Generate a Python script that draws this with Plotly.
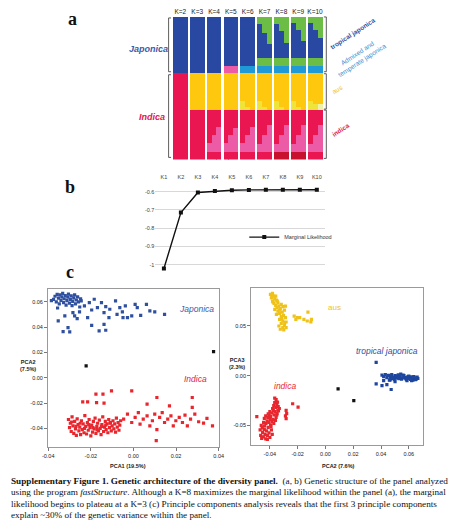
import plotly.graph_objects as go

W, H = 469, 522

# ---- panel a: fastStructure ancestry (percent of samples, top to bottom),
# each K column split in three strips (left, middle, right) to follow the sorted admixture
k_labels = ["K=2", "K=3", "K=4", "K=5", "K=6", "K=7", "K=8", "K=9", "K=10"]

k2_strip = [("jap", 39.5), ("ind", 60.5)]
k3_strip = [("jap", 39.5), ("aus", 25.6), ("ind", 34.9)]
struct_k2 = [k2_strip, k2_strip, k2_strip]
struct_k3 = [k3_strip, k3_strip, k3_strip]
struct_k4 = [
    [("jap", 39.5), ("aus", 25.6), ("ind", 22.9), ("pink", 6.6), ("ind", 5.4)],
    [("jap", 39.5), ("aus", 25.6), ("ind", 17.9), ("pink", 11.6), ("ind", 5.4)],
    [("jap", 39.5), ("aus", 25.6), ("ind", 11.9), ("pink", 17.6), ("ind", 5.4)],
]
struct_k5 = [
    [("jap", 34.4), ("pink", 5.1), ("aus", 25.6), ("ind", 22.9), ("pink", 6.6), ("ind", 5.4)],
    [("jap", 34.4), ("pink", 5.1), ("aus", 25.6), ("ind", 17.9), ("pink", 11.6), ("ind", 5.4)],
    [("jap", 34.4), ("pink", 5.1), ("aus", 25.6), ("ind", 12.9), ("pink", 16.6), ("ind", 5.4)],
]
struct_k6 = [
    [("jap", 34.4), ("ltblue", 5.1), ("aus", 19.6), ("ltyellow", 6.0), ("ind", 22.9), ("pink", 6.6), ("ind", 5.4)],
    [("jap", 34.4), ("ltblue", 5.1), ("aus", 23.6), ("ltyellow", 2.0), ("ind", 17.9), ("pink", 11.6), ("ind", 5.4)],
    [("jap", 34.4), ("ltblue", 5.1), ("aus", 25.6), ("ind", 11.9), ("pink", 17.6), ("ind", 5.4)],
]
struct_k7 = [
    [("green", 5.0), ("jap", 23.8), ("green", 5.6), ("ltblue", 5.1), ("aus", 19.6), ("ltyellow", 6.0),
     ("ind", 23.9), ("pink", 5.6), ("ind", 5.4)],
    [("green", 11.0), ("jap", 17.8), ("green", 5.6), ("ltblue", 5.1), ("aus", 23.6), ("ltyellow", 2.0),
     ("ind", 17.9), ("pink", 11.6), ("ind", 5.4)],
    [("green", 19.0), ("jap", 9.8), ("green", 5.6), ("ltblue", 5.1), ("aus", 25.6),
     ("ind", 10.9), ("pink", 18.6), ("ind", 5.4)],
]
struct_k8 = [
    [("green", 5.0), ("jap", 23.8), ("green", 5.6), ("ltblue", 5.1), ("aus", 19.6), ("ltyellow", 6.0),
     ("ind", 23.9), ("pink", 5.6), ("dkred", 5.4)],
    [("green", 10.0), ("jap", 18.8), ("green", 5.6), ("ltblue", 5.1), ("aus", 23.6), ("ltyellow", 2.0),
     ("ind", 17.9), ("pink", 11.6), ("dkred", 5.4)],
    [("green", 18.0), ("jap", 10.8), ("green", 5.6), ("ltblue", 5.1), ("aus", 25.6),
     ("ind", 10.9), ("pink", 18.6), ("dkred", 5.4)],
]
struct_k9 = [
    [("green", 4.0), ("jap", 24.8), ("green", 5.6), ("ltblue", 5.1), ("aus", 19.6), ("ltyellow", 6.0),
     ("ind", 23.9), ("pink", 5.6), ("dkred", 5.4)],
    [("green", 9.0), ("jap", 19.8), ("green", 5.6), ("ltblue", 5.1), ("aus", 23.6), ("ltyellow", 2.0),
     ("ind", 17.9), ("pink", 11.6), ("dkred", 5.4)],
    [("green", 17.0), ("jap", 11.8), ("green", 5.6), ("ltblue", 5.1), ("aus", 25.6),
     ("ind", 10.9), ("pink", 18.6), ("dkred", 5.4)],
]
struct_k10 = [
    [("green", 4.0), ("jap", 24.8), ("green", 5.6), ("ltblue", 5.1), ("aus", 19.6), ("ltyellow", 6.0),
     ("ind", 23.9), ("pink", 5.6), ("ind", 5.4)],
    [("green", 9.0), ("jap", 19.8), ("green", 5.6), ("ltblue", 5.1), ("aus", 21.6), ("ltyellow", 4.0),
     ("ind", 17.9), ("pink", 11.6), ("ind", 5.4)],
    [("green", 15.0), ("jap", 13.8), ("green", 5.6), ("ltblue", 5.1), ("aus", 21.6), ("pale", 4.0),
     ("ind", 10.9), ("pink", 18.6), ("ind", 5.4)],
]
structures = [struct_k2, struct_k3, struct_k4, struct_k5, struct_k6,
              struct_k7, struct_k8, struct_k9, struct_k10]

cluster_colors = {
    "jap": "#2848a2", "aus": "#fdc80e", "ind": "#ea1651", "pink": "#ec5ca6",
    "green": "#6bbd46", "ltblue": "#1f9ad7", "dkred": "#c8112f", "ltyellow": "#eee43a",
    "pale": "#eef2a8",
}

# ---- panel b: marginal likelihood
k_values = ["K1", "K2", "K3", "K4", "K5", "K6", "K7", "K8", "K9", "K10"]
marginal_likelihood = [-1.02, -0.715, -0.605, -0.597, -0.593, -0.591, -0.590, -0.590, -0.590, -0.590]
ml_ticks = [-1.0, -0.9, -0.8, -0.7, -0.6, -0.5]
ml_ticktext = ["-1", "-0.9", "-0.8", "-0.7", "-0.6", "-0.5"]

# ---- panel c left: PCA1 vs PCA2
pc1_ticks = [-0.04, -0.02, 0.0, 0.02, 0.04]
pc1_ticktext = ["-0.04", "-0.02", "0.00", "0.02", "0.04"]
pc2_left_ticks = [-0.04, -0.02, 0.0, 0.02, 0.04, 0.06]
pc2_left_ticktext = ["-0.04", "-0.02", "0.00", "0.02", "0.04", "0.06"]

japonica_pc1 = [-0.0375, -0.0368, -0.0362, -0.0358, -0.0352, -0.0348, -0.0345, -0.0340, -0.0336, -0.0332,
                -0.0328, -0.0325, -0.0320, -0.0316, -0.0312, -0.0308, -0.0305, -0.0300, -0.0296, -0.0292,
                -0.0288, -0.0285, -0.0280, -0.0276, -0.0272, -0.0268, -0.0262, -0.0258, -0.0252, -0.0248,
                -0.0356, -0.0385, -0.0245, -0.0230, -0.0207, -0.0196, -0.0184, -0.0169, -0.0150, -0.0138,
                -0.0130, -0.0111, -0.0084, -0.0077, -0.0064, -0.0052, -0.0038, -0.0028, -0.0008, 0.0008,
                0.0018, 0.0034, 0.0061, 0.0077, 0.0100, 0.0146, -0.0276, -0.0264, -0.0215, -0.0196,
                -0.0138, -0.0161, -0.0130, -0.0307, -0.0330, -0.0299, -0.0353, -0.0284, -0.0253, -0.0322,
                -0.0115, -0.0049]
japonica_pc2 = [0.0620, 0.0645, 0.0600, 0.0660, 0.0630, 0.0585, 0.0655, 0.0612, 0.0640, 0.0668,
                0.0595, 0.0625, 0.0650, 0.0575, 0.0610, 0.0638, 0.0662, 0.0590, 0.0620, 0.0648,
                0.0570, 0.0605, 0.0632, 0.0655, 0.0585, 0.0615, 0.0640, 0.0600, 0.0560, 0.0625,
                0.0552, 0.0610, 0.0608, 0.0568, 0.0594, 0.0536, 0.0621, 0.0555, 0.0594, 0.0515,
                0.0563, 0.0542, 0.0608, 0.0502, 0.0555, 0.0521, 0.0568, 0.0476, 0.0489, 0.0581,
                0.0555, 0.0494, 0.0581, 0.0529, 0.0521, 0.0502, 0.0489, 0.0468, 0.0476, 0.0415,
                0.0423, 0.0371, 0.0376, 0.0397, 0.0365, 0.0363, 0.0450, 0.0515, 0.0521, 0.0489,
                0.0476, 0.0476]

indica_pc1 = [-0.0305, -0.0300, -0.0296, -0.0292, -0.0288, -0.0284, -0.0280, -0.0276, -0.0272, -0.0268,
              -0.0264, -0.0260, -0.0256, -0.0252, -0.0248, -0.0244, -0.0240, -0.0236, -0.0232, -0.0228,
              -0.0224, -0.0220, -0.0216, -0.0212, -0.0208, -0.0204, -0.0200, -0.0196, -0.0192, -0.0188,
              -0.0184, -0.0180, -0.0176, -0.0172, -0.0168, -0.0164, -0.0160, -0.0156, -0.0152, -0.0148,
              -0.0144, -0.0140, -0.0136, -0.0132, -0.0128, -0.0124, -0.0120, -0.0116, -0.0112, -0.0108,
              -0.0104, -0.0100, -0.0096, -0.0092, -0.0088, -0.0084, -0.0080, -0.0076, -0.0072, -0.0068,
              -0.0064, -0.0060, -0.0290, -0.0270, -0.0250, -0.0230, -0.0210, -0.0190, -0.0170, -0.0150,
              -0.0130, -0.0110,
              -0.0046, -0.0028, -0.0008, 0.0008, 0.0023, 0.0031, 0.0046, 0.0064, 0.0077, 0.0089,
              0.0100, 0.0110, 0.0123, 0.0135, 0.0146, 0.0161, 0.0176, 0.0187, 0.0199, 0.0215,
              0.0230, 0.0242, 0.0253, 0.0268, 0.0288, 0.0306, 0.0329, 0.0345, 0.0371, 0.0107,
              0.0169, 0.0276,
              -0.0176, -0.0143, -0.0103, -0.0008, -0.0238, -0.0215, -0.0173, -0.0138, 0.0064, 0.0110,
              0.0276]
indica_pc2 = [-0.0330, -0.0395, -0.0360, -0.0425, -0.0310, -0.0380, -0.0440, -0.0345, -0.0405, -0.0455,
              -0.0325, -0.0370, -0.0420, -0.0390, -0.0450, -0.0340, -0.0410, -0.0365, -0.0435, -0.0300,
              -0.0385, -0.0445, -0.0355, -0.0415, -0.0330, -0.0395, -0.0460, -0.0375, -0.0430, -0.0345,
              -0.0405, -0.0320, -0.0440, -0.0385, -0.0360, -0.0420, -0.0335, -0.0400, -0.0450, -0.0370,
              -0.0310, -0.0425, -0.0390, -0.0345, -0.0410, -0.0365, -0.0435, -0.0330, -0.0395, -0.0355,
              -0.0420, -0.0380, -0.0340, -0.0405, -0.0365, -0.0430, -0.0320, -0.0390, -0.0355, -0.0415,
              -0.0375, -0.0340, -0.0350, -0.0385, -0.0360, -0.0400, -0.0370, -0.0395, -0.0410, -0.0385,
              -0.0375, -0.0360,
              -0.0327, -0.0288, -0.0354, -0.0314, -0.0275, -0.0367, -0.0327, -0.0301, -0.0380, -0.0340,
              -0.0288, -0.0411, -0.0314, -0.0275, -0.0354, -0.0327, -0.0301, -0.0380, -0.0340, -0.0314,
              -0.0354, -0.0296, -0.0380, -0.0327, -0.0288, -0.0348, -0.0359, -0.0322, -0.0380, -0.0498,
              -0.0222, -0.0235,
              -0.0130, -0.0130, -0.0103, -0.0103, -0.0190, -0.0190, -0.0196, -0.0201, -0.0209, -0.0156,
              -0.0156]

admixed_left_pc1 = [-0.0222, 0.0376]
admixed_left_pc2 = [0.0094, 0.0207]

# ---- panel c right: PCA2 vs PCA3
pc2_right_ticks = [-0.04, -0.02, 0.0, 0.02, 0.04, 0.06]
pc2_right_ticktext = ["-0.04", "-0.02", "0.00", "0.02", "0.04", "0.06"]
pc3_ticks = [-0.05, 0.0, 0.05]
pc3_ticktext = ["-0.05", "0.00", "0.05"]

aus_pc2 = [-0.0396, -0.0381, -0.0372, -0.0389, -0.0365, -0.0381, -0.0353, -0.0370, -0.0342, -0.0358,
           -0.0335, -0.0349, -0.0325, -0.0365, -0.0318, -0.0307, -0.0342, -0.0311, -0.0330, -0.0295,
           -0.0302, -0.0318, -0.0288, -0.0330, -0.0307, -0.0283, -0.0318, -0.0295, -0.0335, -0.0307,
           -0.0283, -0.0325, -0.0300, -0.0386, -0.0358, -0.0346, -0.0377, -0.0330, -0.0314, -0.0293,
           -0.0288, -0.0353,
           -0.0225, -0.0201, -0.0213, -0.0185, -0.0155, -0.0126, -0.0131, -0.0101, -0.0105]
aus_pc3 = [0.0817, 0.0827, 0.0800, 0.0783, 0.0773, 0.0750, 0.0760, 0.0727, 0.0733, 0.0707,
           0.0700, 0.0684, 0.0674, 0.0667, 0.0717, 0.0694, 0.0650, 0.0640, 0.0627, 0.0660,
           0.0607, 0.0594, 0.0584, 0.0567, 0.0550, 0.0540, 0.0527, 0.0507, 0.0500, 0.0484,
           0.0484, 0.0467, 0.0460, 0.0807, 0.0800, 0.0750, 0.0740, 0.0660, 0.0574, 0.0534,
           0.0700, 0.0617,
           0.0600, 0.0584, 0.0567, 0.0584, 0.0567, 0.0640, 0.0550, 0.0567, 0.0540]

tropical_pc2 = [0.0407, 0.0419, 0.0431, 0.0442, 0.0454, 0.0466, 0.0477, 0.0489, 0.0501, 0.0512,
                0.0524, 0.0536, 0.0548, 0.0559, 0.0571, 0.0583, 0.0594, 0.0606, 0.0618, 0.0629,
                0.0641, 0.0653, 0.0665, 0.0495, 0.0518, 0.0530, 0.0542, 0.0555, 0.0565, 0.0578,
                0.0590, 0.0600, 0.0612, 0.0624, 0.0636, 0.0648, 0.0660, 0.0460, 0.0472, 0.0484,
                0.0506, 0.0587, 0.0620,
                0.0365, 0.0365, 0.0407, 0.0442, 0.0473, 0.0419, 0.0466, 0.0501]
tropical_pc3 = [0.0005, -0.0010, 0.0012, -0.0020, 0.0003, -0.0030, 0.0010, -0.0015, 0.0002, -0.0025,
                0.0008, -0.0010, -0.0035, 0.0005, -0.0018, -0.0040, -0.0008, -0.0028, -0.0012, -0.0045,
                -0.0022, -0.0035, -0.0028, -0.0040, -0.0005, -0.0030, 0.0015, -0.0022, 0.0000, -0.0030,
                -0.0018, -0.0005, -0.0038, -0.0025, -0.0010, -0.0040, -0.0015, -0.0045, -0.0005, -0.0028,
                -0.0012, -0.0050, -0.0050,
                0.0134, -0.0082, -0.0099, -0.0089, -0.0139, -0.0050, -0.0043, -0.0059]

indica_r_pc2 = [-0.0466, -0.0459, -0.0452, -0.0447, -0.0440, -0.0435, -0.0430, -0.0424, -0.0418, -0.0412,
                -0.0406, -0.0400, -0.0395, -0.0389, -0.0383, -0.0470, -0.0462, -0.0455, -0.0445, -0.0438,
                -0.0428, -0.0420, -0.0408, -0.0398, -0.0392, -0.0418,
                -0.0440, -0.0430, -0.0415, -0.0405, -0.0395, -0.0385, -0.0378, -0.0370, -0.0362, -0.0355,
                -0.0348, -0.0342, -0.0385, -0.0372, -0.0360, -0.0350, -0.0400, -0.0412,
                -0.0380, -0.0372, -0.0365, -0.0358, -0.0350, -0.0365, -0.0355, -0.0345, -0.0340, -0.0375,
                -0.0338, -0.0332,
                -0.0494, -0.0283, -0.0279, -0.0283, -0.0236, -0.0197, -0.0288]
indica_r_pc3 = [-0.0600, -0.0630, -0.0570, -0.0615, -0.0540, -0.0590, -0.0635, -0.0555, -0.0600, -0.0520,
                -0.0575, -0.0620, -0.0495, -0.0545, -0.0590, -0.0545, -0.0500, -0.0525, -0.0470, -0.0505,
                -0.0480, -0.0455, -0.0470, -0.0440, -0.0510, -0.0640,
                -0.0430, -0.0405, -0.0420, -0.0390, -0.0410, -0.0375, -0.0440, -0.0395, -0.0360, -0.0420,
                -0.0380, -0.0345, -0.0460, -0.0480, -0.0450, -0.0395, -0.0360, -0.0385,
                -0.0330, -0.0300, -0.0270, -0.0320, -0.0290, -0.0225, -0.0240, -0.0265, -0.0310, -0.0350,
                -0.0355, -0.0330,
                -0.0412, -0.0349, -0.0382, -0.0432, -0.0282, -0.0316, -0.0405]

admixed_right_pc2 = [0.0091, 0.0204]
admixed_right_pc3 = [-0.0133, -0.0250]

caption_lines = [
    "<b>Supplementary Figure 1. Genetic architecture of the diversity panel.</b>  (a, b) Genetic structure of the panel analyzed",
    "using the program <i>fastStructure</i>. Although a K=8 maximizes the marginal likelihood within the panel (a), the marginal",
    "likelihood begins to plateau at a K=3 (c) Principle components analysis reveals that the first 3 principle components",
    "explain ~30% of the genetic variance within the panel.",
]


def fx(p):
    return p / W


def fy(p):
    return 1 - p / H


fig = go.Figure()

# panel a bars: three narrow strips per K column
strip_w = 0.87 / 3
for i, strips in enumerate(structures):
    for s, segs in enumerate(strips):
        start = 0.0
        for cluster, share in segs:
            fig.add_trace(go.Bar(
                x=[i + (s - 1) * strip_w], y=[share], base=[start], width=strip_w * 1.02,
                marker=dict(color=cluster_colors[cluster], line=dict(width=0)),
                xaxis="x", yaxis="y", showlegend=False, hoverinfo="skip",
            ))
            start += share

# panel b line
fig.add_trace(go.Scatter(
    x=k_values, y=marginal_likelihood, mode="lines+markers", name="Marginal Likelihood",
    line=dict(color="#111111", width=1.4), marker=dict(symbol="square", size=4, color="#111111"),
    xaxis="x2", yaxis="y2",
))

mk = dict(symbol="square", size=3.2, line=dict(width=0))
fig.add_trace(go.Scatter(x=japonica_pc1, y=japonica_pc2, mode="markers", xaxis="x3", yaxis="y3",
                         marker=dict(color="#2f4f9f", **mk), showlegend=False))
fig.add_trace(go.Scatter(x=indica_pc1, y=indica_pc2, mode="markers", xaxis="x3", yaxis="y3",
                         marker=dict(color="#e8262e", **mk), showlegend=False))
fig.add_trace(go.Scatter(x=admixed_left_pc1, y=admixed_left_pc2, mode="markers", xaxis="x3", yaxis="y3",
                         marker=dict(color="#111111", **mk), showlegend=False))
fig.add_trace(go.Scatter(x=aus_pc2, y=aus_pc3, mode="markers", xaxis="x4", yaxis="y4",
                         marker=dict(color="#efc21a", **mk), showlegend=False))
fig.add_trace(go.Scatter(x=tropical_pc2, y=tropical_pc3, mode="markers", xaxis="x4", yaxis="y4",
                         marker=dict(color="#1e469e", **mk), showlegend=False))
fig.add_trace(go.Scatter(x=indica_r_pc2, y=indica_r_pc3, mode="markers", xaxis="x4", yaxis="y4",
                         marker=dict(color="#e8262e", **mk), showlegend=False))
fig.add_trace(go.Scatter(x=admixed_right_pc2, y=admixed_right_pc3, mode="markers", xaxis="x4", yaxis="y4",
                         marker=dict(color="#111111", **mk), showlegend=False))

tick_font = dict(family="Arial", size=5.5, color="#222222")
pca_axis = dict(showgrid=False, zeroline=False, showline=True, linecolor="#9a9a9a", linewidth=1,
                mirror=True, ticks="outside", ticklen=3, tickcolor="#777777", tickfont=tick_font)

fig.update_layout(
    width=W, height=H, margin=dict(l=0, r=0, t=0, b=0),
    paper_bgcolor="white", plot_bgcolor="white", barmode="overlay", bargap=0,
    font=dict(family="Arial", color="#222222"),
    xaxis=dict(domain=[fx(169.9), fx(325.1)], range=[-0.5, 8.5], side="top",
               tickvals=list(range(len(k_labels))), ticktext=k_labels, ticks="",
               showgrid=False, zeroline=False, showline=False,
               tickfont=dict(family="Arial", size=6.5, color="#222222")),
    yaxis=dict(domain=[fy(158), fy(14.7)], range=[100, 0], visible=False),
    xaxis2=dict(domain=[fx(153), fx(327)], range=[-0.5, 9.5], side="top", anchor="y2",
                ticklabelposition="inside", ticks="", showgrid=False, zeroline=False, showline=False,
                tickfont=dict(family="Arial", size=5.5, color="#444444")),
    yaxis2=dict(domain=[fy(273), fy(171)], range=[-1.05, -0.495], anchor="x2",
                tickvals=ml_ticks, ticktext=ml_ticktext, showgrid=True, gridcolor="#d8d8d8",
                gridwidth=1, zeroline=False, showline=False, ticks="",
                tickfont=dict(family="Arial", size=5.5, color="#444444")),
    xaxis3=dict(domain=[fx(43), fx(218)], range=[-0.0401, 0.0401], anchor="y3",
                tickvals=pc1_ticks, ticktext=pc1_ticktext, **pca_axis),
    yaxis3=dict(domain=[fy(447), fy(288)], range=[-0.055, 0.0703], anchor="x3",
                tickvals=pc2_left_ticks, ticktext=pc2_left_ticktext, **pca_axis),
    xaxis4=dict(domain=[fx(251), fx(427)], range=[-0.0535, 0.0702], anchor="y4",
                tickvals=pc2_right_ticks, ticktext=pc2_right_ticktext, **pca_axis),
    yaxis4=dict(domain=[fy(445), fy(287)], range=[-0.07, 0.0883], anchor="x4",
                tickvals=pc3_ticks, ticktext=pc3_ticktext, **pca_axis),
    legend=dict(x=fx(244), y=fy(236), xanchor="left", yanchor="middle", bgcolor="rgba(0,0,0,0)",
                font=dict(family="Arial", size=5.5, color="#333333"), itemwidth=30),
)

ann = []


def text(x, y, s, size, color="#222222", family="Arial", angle=0, xanchor="center", **kw):
    ann.append(dict(x=fx(x), y=fy(y), xref="paper", yref="paper", text=s, showarrow=False,
                    xanchor=xanchor, yanchor="middle", textangle=angle,
                    font=dict(size=size, color=color, family=family), **kw))


serif = "Liberation Serif"
text(68, 17, "<b>a</b>", 18, "#111111", serif)
text(66, 186, "<b>b</b>", 18, "#111111", serif)
text(66, 271, "<b>c</b>", 18, "#111111", serif)

text(146, 47, "<b><i>Japonica</i></b>", 9, "#3d5aa8")
text(149, 115, "<b><i>Indica</i></b>", 9, "#e0204a")
text(355, 32, "<b>tropical japonica</b>", 6.5, "#2f4f9f", angle=-33)
text(362, 55, "Admixed and<br>temperate japonica", 6.5, "#3b8fd0", angle=-33)
text(339, 88, "aus", 6.5, "#f0c419", angle=-33)
text(343, 128, "<b>indica</b>", 6.5, "#e0204a", angle=-33)

text(195, 308, "<i>Japonica</i>", 8.5, "#3d5aa8")
text(194, 378, "<i>Indica</i>", 8.5, "#e0204a")
text(336, 307, "aus", 8, "#efc21a")
text(390, 350, "<i>tropical japonica</i>", 8.5, "#2f4f9f")
text(286, 385, "<i>indica</i>", 8.5, "#e8262e")

text(23, 365, "<b>PCA2<br>(7.5%)</b>", 5.5)
text(125, 466, "<b>PCA1 (19.5%)</b>", 5.5)
text(237, 363, "<b>PCA3<br>(2.3%)</b>", 5.5)
text(340, 466, "<b>PCA2 (7.6%)</b>", 5.5)

for j, line in enumerate(caption_lines):
    text(3, 480.5 + j * 11.5, line, 9.2, "#111111", serif, xanchor="left")

fig.update_layout(annotations=ann)


def bracket(x, y0, y1, arm):
    return dict(type="path", xref="paper", yref="paper",
                path=f"M {fx(x + arm)},{fy(y0)} L {fx(x)},{fy(y0)} L {fx(x)},{fy(y1)} L {fx(x + arm)},{fy(y1)}",
                line=dict(color="#333333", width=0.8))


fig.update_layout(shapes=[
    bracket(166.5, 16, 70, 2.5), bracket(166.5, 73, 156, 2.5),
    bracket(328, 15, 70, -2.5), bracket(328, 72, 107.5, -2.5), bracket(328, 108.5, 157, -2.5),
])

fig.write_html("out.html", config={"displayModeBar": False},
               post_script="document.body.style.margin='0';document.body.style.overflow='hidden';")
